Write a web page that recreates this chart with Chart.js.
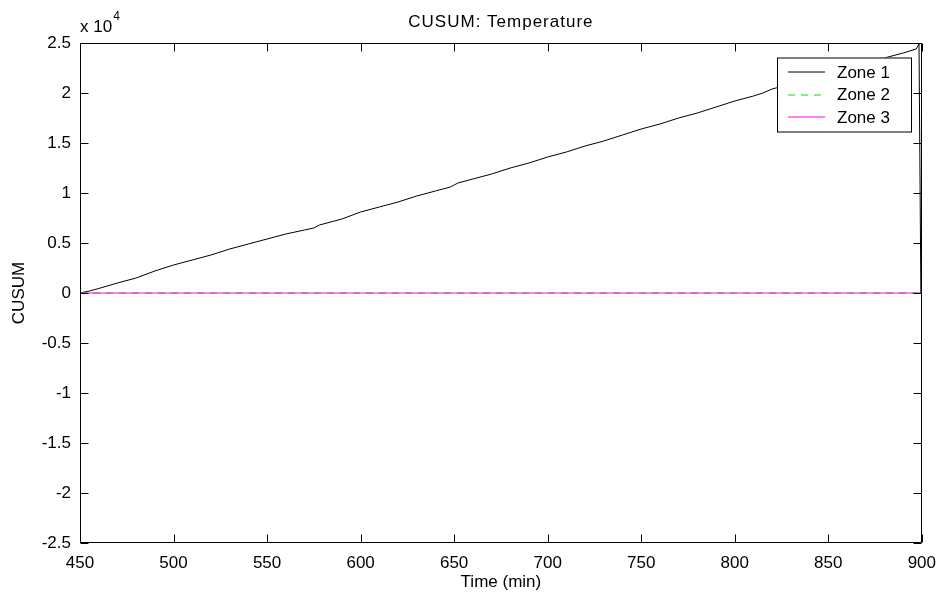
<!DOCTYPE html>
<html>
<head>
<meta charset="utf-8">
<script src="https://cdn.jsdelivr.net/npm/chart.js@4/dist/chart.umd.min.js"></script>
<style>
  html, body { margin: 0; padding: 0; background: #fff; }
  #wrap { width: 946px; height: 600px; }
</style>
</head>
<body>
<div id="wrap"><canvas id="c" width="946" height="600"></canvas></div>
<script>
// Time axis (minutes) and CUSUM values per zone
const zone1Times = [450, 455, 460, 470, 480, 490, 500, 510, 520, 530, 540, 550, 560, 570, 575, 578,
  590, 600, 610, 620, 630, 640, 648, 652, 660, 670, 680, 690, 700, 710, 720, 730, 740, 750,
  760, 770, 780, 790, 800, 810, 815, 820, 830, 840, 850, 860, 870, 880, 890, 897, 898.5, 899.5, 900];
const zone1Values = [0, 200, 450, 1000, 1500, 2200, 2800, 3300, 3800, 4400, 4900, 5400, 5900, 6300, 6500, 6800,
  7400, 8100, 8600, 9100, 9700, 10200, 10600, 11000, 11400, 11900, 12500, 13000, 13600, 14100, 14700, 15200, 15800, 16400,
  16900, 17500, 18000, 18600, 19200, 19700, 20000, 20400, 20900, 21400, 22000, 22500, 23000, 23500, 24000, 24400, 24900, 0, 0];

const zone23Times = [450, 500, 550, 600, 650, 700, 750, 800, 850, 900];
const zone2Values = [0, 0, 0, 0, 0, 0, 0, 0, 0, 0];
const zone3Values = [0, 0, 0, 0, 0, 0, 0, 0, 0, 0];

const xTicks = [450, 500, 550, 600, 650, 700, 750, 800, 850, 900];
const yTicks = [-25000, -20000, -15000, -10000, -5000, 0, 5000, 10000, 15000, 20000, 25000];
const yExponent = 4;
const titleText = 'CUSUM: Temperature';

const FONT = 'Liberation Sans, Arial, Helvetica, sans-serif';
const FS = 17;

const toPoints = (xs, ys) => xs.map((x, i) => ({ x: x, y: ys[i] }));

// Box frame with inward tick marks on all four sides, the axis multiplier and the title
const framePlugin = {
  id: 'frame',
  afterDraw(chart) {
    const { ctx, chartArea: a, scales } = chart;
    const L = Math.round(a.left) + 0.5, R = Math.round(a.right) - 0.5;
    const T = Math.round(a.top) + 0.5, B = Math.round(a.bottom) - 0.5;
    const len = 8;
    ctx.save();
    ctx.strokeStyle = '#000';
    ctx.lineWidth = 1;
    ctx.beginPath();
    ctx.rect(L, T, R - L, B - T);
    scales.x.ticks.forEach(t => {
      const px = Math.round(scales.x.getPixelForValue(t.value)) + 0.5;
      ctx.moveTo(px, B); ctx.lineTo(px, B - len);
      ctx.moveTo(px, T); ctx.lineTo(px, T + len);
    });
    scales.y.ticks.forEach(t => {
      const py = Math.round(scales.y.getPixelForValue(t.value)) + 0.5;
      ctx.moveTo(L, py); ctx.lineTo(L + len, py);
      ctx.moveTo(R, py); ctx.lineTo(R - len, py);
    });
    ctx.stroke();

    // "x 10^4" multiplier above the y axis
    ctx.fillStyle = '#000';
    ctx.textBaseline = 'alphabetic';
    ctx.textAlign = 'left';
    ctx.font = FS + 'px ' + FONT;
    const base = 'x 10';
    ctx.fillText(base, a.left, 32);
    const w = ctx.measureText(base).width;
    ctx.font = '12px ' + FONT;
    ctx.fillText(String(yExponent), a.left + w + 1, 20);

    // title centred over the plot area
    ctx.font = FS + 'px ' + FONT;
    ctx.textAlign = 'center';
    ctx.textBaseline = 'middle';
    if ('letterSpacing' in ctx) ctx.letterSpacing = '1px';
    ctx.fillText(titleText, (a.left + a.right) / 2, 22);
    if ('letterSpacing' in ctx) ctx.letterSpacing = '0px';
    ctx.restore();
  }
};

// Boxed legend in the upper right of the plot
const boxLegendPlugin = {
  id: 'boxLegend',
  afterDraw(chart) {
    const { ctx } = chart;
    const box = { x: 777, y: 57.5, w: 134, h: 74 };
    ctx.save();
    ctx.fillStyle = '#fff';
    ctx.fillRect(box.x, box.y, box.w, box.h);
    ctx.strokeStyle = '#000';
    ctx.lineWidth = 1;
    ctx.strokeRect(box.x + 0.5, box.y + 0.5, box.w, box.h);
    ctx.font = FS + 'px ' + FONT;
    ctx.textBaseline = 'middle';
    ctx.textAlign = 'left';
    chart.data.datasets.forEach((ds, i) => {
      const y = 72 + i * 22.5;
      ctx.beginPath();
      ctx.strokeStyle = ds.borderColor;
      ctx.lineWidth = ds.borderWidth;
      ctx.setLineDash(ds.borderDash || []);
      ctx.moveTo(788, Math.round(y));
      ctx.lineTo(825, Math.round(y));
      ctx.stroke();
      ctx.setLineDash([]);
      ctx.fillStyle = '#000';
      ctx.fillText(ds.label, 837, y + 1);
    });
    ctx.restore();
  }
};

new Chart(document.getElementById('c'), {
  type: 'line',
  data: {
    datasets: [
      { label: 'Zone 1', data: toPoints(zone1Times, zone1Values), borderColor: '#000000',
        borderWidth: 1, pointRadius: 0, fill: false, tension: 0, order: 2 },
      { label: 'Zone 2', data: toPoints(zone23Times, zone2Values), borderColor: '#00e000',
        borderWidth: 1, borderDash: [7, 6], pointRadius: 0, fill: false, tension: 0, order: 1 },
      { label: 'Zone 3', data: toPoints(zone23Times, zone3Values), borderColor: '#ff00ff',
        borderWidth: 1, pointRadius: 0, fill: false, tension: 0, order: 0 }
    ]
  },
  options: {
    responsive: false,
    animation: false,
    layout: { padding: { left: 0, right: 22, top: 43, bottom: 0 } },
    plugins: {
      legend: { display: false },
      tooltip: { enabled: false },
      title: { display: false }
    },
    scales: {
      x: {
        type: 'linear',
        min: 450, max: 900,
        afterBuildTicks: s => { s.ticks = xTicks.map(v => ({ value: v })); },
        afterFit: s => { s.height = 57; },
        grid: { display: false, drawTicks: false },
        border: { display: false },
        ticks: { color: '#000', font: { family: FONT, size: FS }, padding: 10,
                 maxRotation: 0, autoSkip: false, callback: v => String(v) },
        title: { display: true, text: 'Time (min)', color: '#000',
                 font: { family: FONT, size: FS }, padding: { top: 0, bottom: 7 } }
      },
      y: {
        type: 'linear',
        min: -25000, max: 25000,
        afterBuildTicks: s => { s.ticks = yTicks.map(v => ({ value: v })); },
        afterFit: s => { s.width = 80; },
        grid: { display: false, drawTicks: false },
        border: { display: false },
        ticks: { color: '#000', font: { family: FONT, size: FS }, padding: 9,
                 autoSkip: false, callback: v => String(v / Math.pow(10, yExponent)) },
        title: { display: true, text: 'CUSUM', color: '#000',
                 font: { family: FONT, size: FS }, padding: { top: 9, bottom: 0 } }
      }
    }
  },
  plugins: [framePlugin, boxLegendPlugin]
});
</script>
</body>
</html>
